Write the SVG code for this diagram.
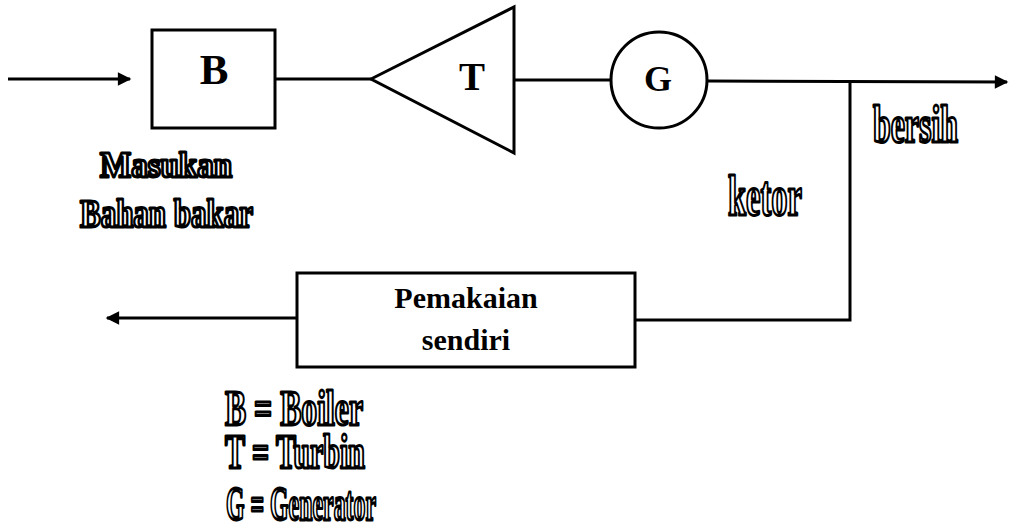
<svg xmlns="http://www.w3.org/2000/svg" width="1009" height="524" viewBox="0 0 1009 524">
<style>
.ln{fill:none;stroke:#000;stroke-width:3}
.shp{fill:#fff;stroke:#000;stroke-width:3}
.lbl{font-family:"Liberation Serif",serif;font-weight:bold;fill:#000}
.out{font-family:"Liberation Serif",serif;font-weight:bold;fill:#fff;stroke:#000;stroke-width:3;stroke-linejoin:round}
</style>
<defs>
<marker id="ah" viewBox="0 0 10 10" refX="9" refY="5" markerWidth="6" markerHeight="4.5" orient="auto" markerUnits="strokeWidth">
<path d="M0,0 L10,5 L0,10 Z" fill="#000"/>
</marker>
</defs>
<rect width="1009" height="524" fill="#fff"/>
<g id="connectors">
<line class="ln" x1="8" y1="79" x2="130" y2="79" marker-end="url(#ah)"/>
<line class="ln" x1="275" y1="79" x2="371" y2="79"/>
<line class="ln" x1="514" y1="80" x2="610" y2="80"/>
<line class="ln" x1="708" y1="81" x2="1007" y2="82" marker-end="url(#ah)"/>
<polyline class="ln" points="850,81 850,320 635,320"/>
<line class="ln" x1="297" y1="318" x2="107" y2="318" marker-end="url(#ah)"/>
</g>
<g id="boiler">
<rect class="shp" x="152" y="30" width="123" height="98"/>
<text class="lbl" x="214" y="84" font-size="43" text-anchor="middle">B</text>
</g>
<g id="turbin">
<polygon class="shp" points="371,79 514,7 514,153"/>
<text class="lbl" x="472" y="90" font-size="39" text-anchor="middle">T</text>
</g>
<g id="generator">
<circle class="shp" cx="659" cy="80" r="48"/>
<text class="lbl" x="658" y="91" font-size="36" text-anchor="middle">G</text>
</g>
<g id="pemakaian">
<rect class="shp" x="297" y="273" width="338" height="94"/>
<text class="lbl" x="466" y="308" font-size="30" text-anchor="middle">Pemakaian</text>
<text class="lbl" x="466" y="350" font-size="30" text-anchor="middle">sendiri</text>
</g>
<g id="labels">
<text class="out" x="100" y="177" font-size="36" textLength="132" lengthAdjust="spacingAndGlyphs">Masukan</text>
<text class="out" x="80" y="227" font-size="40" textLength="173" lengthAdjust="spacingAndGlyphs">Bahan bakar</text>
<text class="out" x="873" y="142" font-size="52" textLength="85" lengthAdjust="spacingAndGlyphs">bersih</text>
<text class="out" x="728" y="215" font-size="56" textLength="74" lengthAdjust="spacingAndGlyphs">ketor</text>
</g>
<g id="legend">
<text class="out" x="225" y="425" font-size="50" textLength="138" lengthAdjust="spacingAndGlyphs">B = Boiler</text>
<text class="out" x="225" y="468" font-size="48" textLength="140" lengthAdjust="spacingAndGlyphs">T = Turbin</text>
<text class="out" x="226" y="520" font-size="48" textLength="150" lengthAdjust="spacingAndGlyphs">G = Generator</text>
</g>
</svg>
